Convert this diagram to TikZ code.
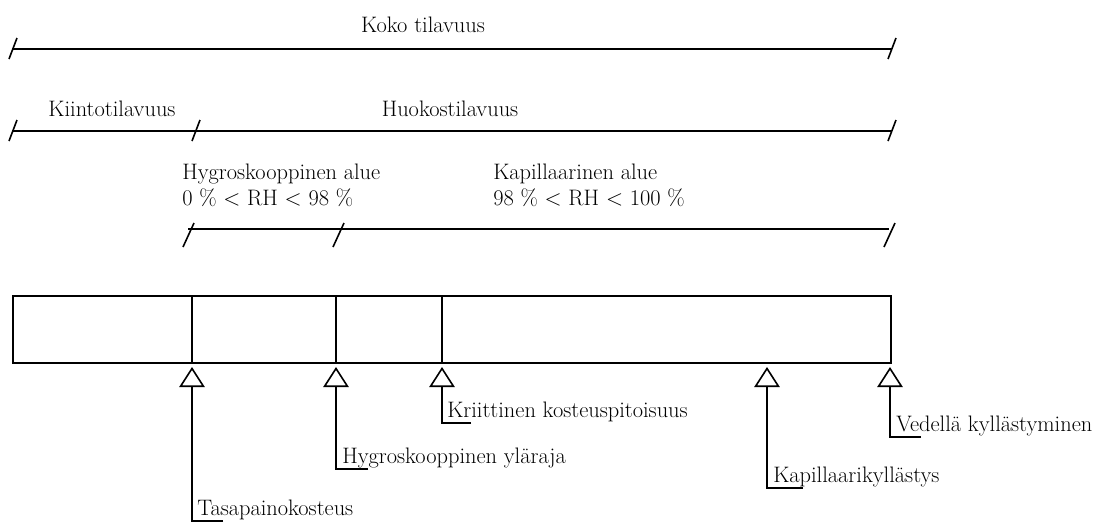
\documentclass[tikz,border=0pt]{standalone}
\usepackage{fontspec}
\usepackage{tikz}
\usetikzlibrary{arrows.meta,calc}

\begin{document}
\begin{tikzpicture}[x=0.75pt, y=-0.75pt, every node/.style={font=\fontsize{16.8}{19.5}\selectfont, inner sep=0pt}]
    \tikzstyle{dim} = [line width=1.3pt]
    \tikzstyle{tick} = [line width=1.2pt]
    \tikzstyle{pointer} = [line width=1.2pt, -{Triangle[open, length=15pt, width=19pt, line width=1.2pt]}, shorten >=3pt]
    \useasboundingbox (0,0) rectangle (1112,522);
    % volume lines
    \coordinate (a1) at (13,49);  \coordinate (a2) at (892,49);
    \coordinate (b1) at (13,131); \coordinate (b2) at (196,131); \coordinate (b3) at (892,131);
    \coordinate (c1) at (188,229); \coordinate (c2) at (338,229); \coordinate (c3) at (889,229);
    \draw[dim] (a1) -- (a2);
    \draw[dim] (b1) -- (b3);
    \draw[dim] (c1) -- (c3);
    \foreach \p in {a1,a2,b1,b2,b3} \draw[tick] ($(\p)+(-4,10)$) -- ($(\p)+(4,-11)$);
    \foreach \p in {c1,c2,c3} \draw[tick] ($(\p)+(-5,18)$) -- ($(\p)+(6,-6)$);
    \node[anchor=base] (koko) at (423,32) {Koko tilavuus};
    \node[anchor=base] (kiinto) at (112,116) {Kiintotilavuus};
    \node[anchor=base] (huokos) at (450,116) {Huokostilavuus};
    \node[anchor=north west, align=left] (hygro) at (182,164) {Hygroskooppinen alue\\0 \% < RH < 98 \%};
    \node[anchor=north west, align=left] (kapil) at (493,164) {Kapillaarinen alue\\98 \% < RH < 100 \%};
    % sample bar
    \draw[dim] (13,296) rectangle (891,363);
    \foreach \x [count=\i] in {192,336,442,767,890} \coordinate (d\i) at (\x,363);
    \foreach \i in {1,2,3} \draw[dim] (d\i) -- ++(0,-67);
    % moisture states
    \coordinate (e1) at (223,521); \coordinate (e2) at (368,469); \coordinate (e3) at (471,423);
    \coordinate (e4) at (803,488); \coordinate (e5) at (921,437);
    \node[anchor=base west] (tasa) at (197,515) {Tasapainokosteus};
    \node[anchor=base west] (ylaraja) at (342,463) {Hygroskooppinen yläraja};
    \node[anchor=base west] (kriit) at (447,417) {Kriittinen kosteuspitoisuus};
    \node[anchor=base west] (kyll) at (773,482) {Kapillaarikyllästys};
    \node[anchor=base west] (vedella) at (896,431) {Vedellä kyllästyminen};
    \foreach \i in {1,...,5} \draw[pointer] (e\i) -| (d\i);
\end{tikzpicture}
\end{document}
